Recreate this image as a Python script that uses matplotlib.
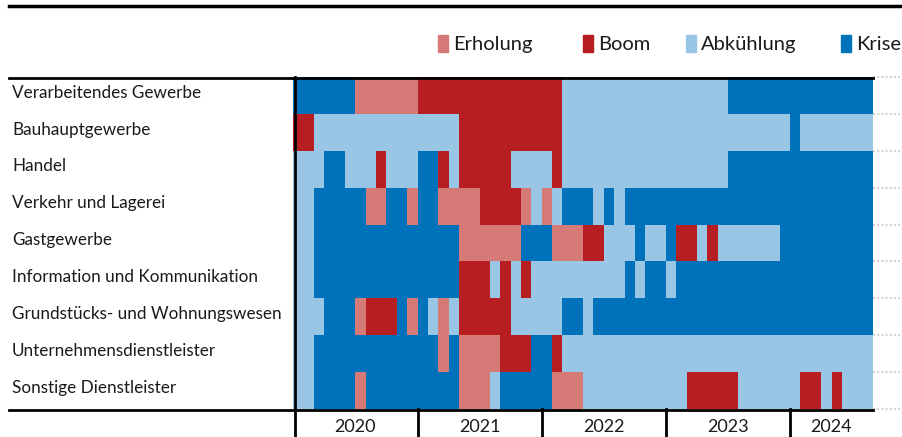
import matplotlib
matplotlib.use('Agg')
import matplotlib.pyplot as plt
import numpy as np
from matplotlib.colors import ListedColormap
from matplotlib.lines import Line2D
from matplotlib.patches import Rectangle
from matplotlib.transforms import Affine2D, blended_transform_factory

plt.rcParams['font.family'] = ['Lato', 'DejaVu Sans']

# Konjunkturphasen je Branche, monatlich Jan 2020 - Aug 2024 (Laenge der Phasen in Monaten)
phasen = ['Erholung', 'Boom', 'Abkühlung', 'Krise']
farben = ['#d57a77', '#b71e21', '#9ac6e5', '#0072bb']
code = {'E': 0, 'B': 1, 'A': 2, 'K': 3}

branchen = ['Verarbeitendes Gewerbe', 'Bauhauptgewerbe', 'Handel', 'Verkehr und Lagerei',
            'Gastgewerbe', 'Information und Kommunikation', 'Grundstücks- und Wohnungswesen',
            'Unternehmensdienstleister', 'Sonstige Dienstleister']

verarbeitend = [('K', 6), ('E', 6), ('B', 14), ('A', 16), ('K', 14)]
bau = [('B', 2), ('A', 14), ('B', 10), ('A', 22), ('K', 1), ('A', 7)]
handel = [('A', 3), ('K', 2), ('A', 3), ('B', 1), ('A', 3), ('K', 2), ('B', 1), ('A', 1),
          ('B', 5), ('A', 4), ('B', 1), ('A', 16), ('K', 14)]
verkehr = [('A', 2), ('K', 5), ('E', 2), ('K', 2), ('E', 1), ('K', 2), ('E', 4), ('B', 4),
           ('E', 1), ('A', 1), ('E', 1), ('A', 1), ('K', 3), ('A', 1), ('K', 1), ('A', 1), ('K', 24)]
gast = [('A', 2), ('K', 14), ('E', 6), ('K', 3), ('E', 3), ('B', 2), ('A', 3), ('K', 1),
        ('A', 2), ('K', 1), ('B', 2), ('A', 1), ('B', 1), ('A', 6), ('K', 9)]
info = [('A', 2), ('K', 14), ('B', 3), ('A', 1), ('B', 1), ('A', 1), ('B', 1), ('A', 9),
        ('K', 1), ('A', 1), ('K', 2), ('A', 1), ('K', 19)]
grundst = [('A', 3), ('K', 3), ('E', 1), ('B', 3), ('K', 1), ('E', 1), ('K', 1), ('A', 1),
           ('E', 1), ('A', 1), ('B', 5), ('A', 5), ('K', 2), ('A', 1), ('K', 27)]
unternehmen = [('A', 2), ('K', 12), ('E', 1), ('K', 1), ('E', 4), ('B', 3), ('K', 2), ('B', 1), ('A', 30)]
sonstige = [('A', 2), ('K', 4), ('E', 1), ('K', 9), ('E', 3), ('A', 1), ('K', 5), ('E', 3),
            ('A', 10), ('B', 5), ('A', 6), ('B', 2), ('A', 1), ('B', 1), ('A', 3)]

zeilen = [verarbeitend, bau, handel, verkehr, gast, info, grundst, unternehmen, sonstige]
jahre = ['2020', '2021', '2022', '2023', '2024']

matrix = np.array([[code[p] for p, n in z for _ in range(n)] for z in zeilen])
n_monate = matrix.shape[1]

W, H = 902, 437
fig = plt.figure(figsize=(W / 100, H / 100), dpi=100)
pix = Affine2D().scale(1 / W, -1 / H).translate(0, 1) + fig.transFigure

top, bottom = 77, 409
x0, x1 = 293.3, 872.9
ax = fig.add_axes([x0 / W, 1 - bottom / H, (x1 - x0) / W, (bottom - top) / H])
ax.pcolormesh(np.arange(n_monate + 1), np.arange(len(branchen) + 1), matrix,
              cmap=ListedColormap(farben), vmin=-0.5, vmax=3.5)
ax.set_xlim(0, n_monate)
ax.set_ylim(len(branchen), 0)
ax.axis('off')

# graue Gitterlinien rechts
gx = blended_transform_factory(pix, ax.transData)
for i in range(len(branchen) + 1):
    fig.add_artist(Line2D([873, 902], [i, i], color='#d4d4d4', lw=1.5, ls=(0, (1, 1)), transform=gx))

# Rahmenlinien
fig.add_artist(Line2D([9, 902], [6, 6], color='black', lw=2.5, transform=pix))
fig.add_artist(Line2D([9, 873], [78, 78], color='black', lw=2, transform=pix))
fig.add_artist(Line2D([9, 873], [409.5, 409.5], color='black', lw=2, transform=pix))
fig.add_artist(Line2D([294.5, 294.5], [77, 437], color='black', lw=2, transform=pix))

# Branchen-Beschriftung
for i, b in enumerate(branchen):
    fig.text(12, i + 0.56, b, transform=gx, fontsize=12.3, va='baseline', ha='left', color='#1a1a1a')

# Jahre
jx = blended_transform_factory(ax.transData, pix)
for j, jahr in enumerate(jahre):
    a = j * 12
    e = min((j + 1) * 12, n_monate)
    if j > 0:
        fig.add_artist(Line2D([a, a], [409, 437], color='black', lw=2, transform=jx))
    fig.text((a + e) / 2, 432, jahr, transform=jx, fontsize=13, ha='center', va='baseline', color='#1a1a1a')

# Legende
leg_x = [438, 583, 686, 841]
for x, name, f in zip(leg_x, phasen, farben):
    fig.add_artist(Rectangle((x, 52), 10, -17, color=f, transform=pix))
    fig.text(x + 15, 50, name, transform=pix, fontsize=14.5, va='baseline', ha='left', color='#1a1a1a')

fig.savefig('out.png', dpi=100)
